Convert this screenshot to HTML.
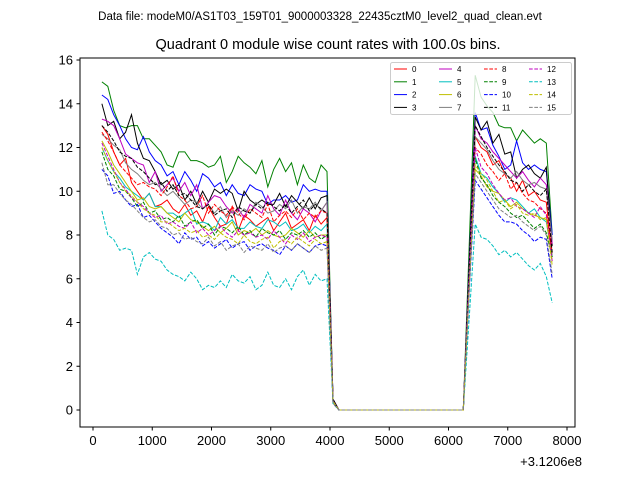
<!DOCTYPE html>
<html><head><meta charset="utf-8"><style>
body{margin:0;background:#fff}
svg text{font-family:"Liberation Sans","DejaVu Sans",sans-serif}
</style></head><body>
<svg id="c" width="640" height="480" xmlns="http://www.w3.org/2000/svg">
<rect width="640" height="480" fill="#fff"/>
<text x="320" y="20" font-size="11.5" text-anchor="middle">Data file: modeM0/AS1T03_159T01_9000003328_22435cztM0_level2_quad_clean.evt</text>
<text x="328" y="49" font-size="14.5" text-anchor="middle">Quadrant 0 module wise count rates with 100.0s bins.</text>
<g id="plot"></g>
<rect x="80" y="58" width="495" height="369" fill="none" stroke="#000" stroke-width="1"/>
<g id="axes"></g>
<text x="582" y="466" font-size="13" text-anchor="end">+3.1206e8</text>
<g id="legend"></g>
</svg>
<script>
const seg1X = [];for(let i=0;i<39;i++)seg1X.push(150+100*i);
const xTicks=[0,1000,2000,3000,4000,5000,6000,7000,8000];
const yTicks=[0,2,4,6,8,10,12,14,16];
const colors=["#ff0000","#008000","#0000ff","#000000","#bf00bf","#00bfbf","#bfbf00","#808080"];
const seg1 = [
[13.0,12.6,11.8,11.2,11.5,10.4,10.0,9.6,9.9,9.3,9.4,9.6,9.2,9.0,9.4,8.9,9.1,8.6,9.3,8.8,8.4,8.5,9.3,8.2,8.9,8.7,8.4,8.6,8.8,8.2,8.6,9.0,8.3,8.5,8.7,8.2,8.9,8.5,8.8],
[15.0,14.8,13.7,13.0,12.9,13.0,13.0,12.4,12.4,12.1,11.8,11.2,11.1,11.8,11.8,11.4,11.4,11.3,11.1,11.2,11.6,10.4,10.9,11.6,11.3,11.1,10.8,11.4,10.2,11.0,11.5,10.9,11.3,10.3,11.2,10.6,10.4,11.2,10.9],
[14.4,14.2,13.5,13.0,12.4,12.0,11.9,12.5,11.8,11.4,11.2,10.7,10.9,10.3,10.9,10.5,10.0,10.8,10.6,10.2,10.4,9.8,10.3,9.9,9.8,10.3,10.1,10.0,9.4,9.6,9.6,9.8,9.5,9.6,10.3,10.0,10.1,10.0,10.0],
[14.0,13.0,13.2,12.4,12.7,13.5,12.2,11.5,11.4,10.9,10.3,10.5,10.1,10.3,9.6,10.0,9.4,10.0,9.5,10.1,9.9,10.1,9.9,9.1,10.0,9.6,9.4,9.6,9.4,9.4,9.9,9.3,9.8,9.5,9.2,9.7,9.2,9.7,9.8],
[13.3,13.2,13.0,12.4,11.7,11.5,11.3,11.2,10.4,10.9,10.0,10.3,10.6,10.0,10.4,9.8,10.3,9.2,9.5,9.8,9.7,9.3,9.0,9.2,8.8,9.4,9.2,9.0,9.8,9.2,8.9,9.6,9.0,8.7,9.2,9.0,8.6,9.1,9.5],
[12.0,11.4,10.9,10.6,10.2,10.0,9.8,9.6,9.9,9.3,9.3,9.0,9.0,8.8,9.0,9.2,8.5,8.6,8.5,8.2,8.8,8.5,8.7,8.3,8.3,8.6,8.4,8.3,8.7,8.6,8.4,8.6,8.2,8.3,8.5,8.1,8.4,8.2,8.5],
[12.3,11.8,11.2,10.8,10.4,10.0,9.6,9.7,9.3,9.2,9.3,9.0,8.8,8.6,9.0,8.7,8.6,8.4,8.2,8.4,8.1,8.3,8.6,8.0,8.2,8.1,8.3,8.0,8.2,8.0,7.9,8.0,8.3,8.1,7.9,8.2,7.9,8.0,8.0],
[12.6,12.4,12.1,11.9,11.3,11.0,10.8,10.5,10.3,10.4,10.1,9.8,10.0,9.7,9.4,9.6,9.5,9.2,9.4,9.0,9.3,8.8,9.1,8.9,9.2,9.0,9.5,9.3,9.0,9.1,9.4,9.2,9.6,9.0,9.3,9.2,9.5,9.1,9.5],
[12.7,12.3,11.8,11.2,10.9,10.6,10.3,10.4,10.2,10.1,9.8,10.2,10.7,9.8,9.6,9.2,9.3,9.8,9.0,9.4,9.1,8.9,9.3,9.0,8.7,9.2,9.0,8.8,9.4,8.6,8.9,9.1,8.8,9.2,8.7,9.0,8.8,9.1,9.0],
[11.8,11.0,10.7,10.1,10.0,9.7,9.3,9.5,9.0,9.1,8.7,8.8,8.6,8.9,8.4,8.6,8.7,8.3,8.5,8.0,8.4,8.3,8.1,8.4,8.0,8.2,7.9,8.3,8.1,8.0,8.2,7.8,8.1,8.0,8.2,7.9,8.1,7.8,8.0],
[11.0,10.7,9.9,10.0,9.6,9.3,9.4,8.8,8.9,8.6,8.3,8.1,7.9,7.6,8.1,7.8,7.9,7.5,7.7,7.4,7.6,7.8,7.4,7.6,7.7,7.3,7.5,7.6,7.4,7.3,7.1,7.5,7.3,7.6,7.4,7.2,7.5,7.6,7.5],
[13.0,12.7,12.3,11.8,11.6,11.5,11.1,10.9,10.6,10.3,10.4,10.0,10.3,9.8,9.9,9.6,9.3,9.2,9.4,8.9,9.1,9.2,8.8,9.3,9.1,9.0,9.4,9.2,9.5,9.3,9.1,9.4,9.0,9.3,9.6,9.1,9.4,9.2,9.0],
[12.2,11.6,11.0,10.4,10.1,9.7,9.5,9.3,9.0,8.8,8.9,8.5,8.6,8.4,8.3,8.6,8.1,8.3,8.0,8.2,8.4,8.1,7.9,8.2,8.0,8.1,7.9,8.0,7.8,8.2,7.9,7.6,8.0,7.8,8.1,7.7,7.9,8.0,7.9],
[9.1,8.0,7.8,7.3,7.4,7.3,6.2,7.0,7.2,6.9,6.8,6.4,6.2,6.1,5.9,6.3,6.0,5.5,5.7,5.6,5.9,5.6,6.2,5.9,5.8,6.1,5.5,5.7,6.3,5.7,5.6,6.0,5.5,6.1,6.4,5.7,6.2,5.9,6.0],
[12.0,11.4,10.9,10.4,10.0,9.8,9.5,9.2,9.0,8.9,8.6,8.6,8.4,8.2,8.3,8.1,8.2,7.9,8.0,7.8,8.1,7.9,7.8,7.6,8.0,7.7,7.6,7.8,7.9,7.4,7.7,7.8,7.6,7.9,7.7,7.5,7.8,7.6,7.7],
[11.3,10.3,10.3,9.9,9.6,9.4,9.1,8.8,8.6,8.7,8.4,8.3,8.0,8.1,7.8,7.9,7.7,7.6,7.9,7.5,7.7,7.3,7.5,7.6,7.2,7.5,7.4,7.3,7.6,7.2,7.4,7.5,7.3,7.6,7.4,7.2,7.5,7.3,7.4]
];
const drop1 = [0.5,0.4,0.5,0.5,0.4,0.4,0.4,0.4,0.4,0.4,0.3,0.4,0.4,0.3,0.4,0.3];
const zeroX = [];for(let i=0;i<22;i++)zeroX.push(4150+100*i);
const rise2 = [6.2,7.5,6.7,6.6,6.5,6.0,5.8,6.2,6.0,5.7,5.4,6.5,6.0,4.2,5.6,5.6];
const seg2X = [];for(let i=0;i<14;i++)seg2X.push(6450+100*i);
const seg2 = [
[12.5,12.0,11.8,11.2,11.4,10.8,10.6,10.0,10.5,9.8,10.0,9.6,9.5,7.0],
[15.3,14.3,13.9,13.6,13.0,12.9,12.9,12.3,12.8,12.5,12.2,12.4,12.2,8.0],
[13.6,12.8,12.9,12.1,11.6,11.0,11.2,12.3,11.3,11.0,11.2,11.0,10.9,8.0],
[13.4,12.8,13.2,12.2,12.6,11.7,11.8,10.6,11.0,11.2,10.8,10.6,11.1,7.5],
[13.0,12.4,12.2,11.8,11.5,11.2,10.9,10.6,10.9,10.5,10.2,10.6,10.3,7.6],
[11.6,10.8,10.6,10.2,9.9,9.5,9.7,9.6,9.3,9.0,9.2,8.8,8.6,7.0],
[11.0,10.7,10.2,10.0,9.9,9.6,9.3,9.5,9.2,9.0,8.9,8.8,8.7,6.8],
[12.5,12.2,11.9,11.4,11.0,10.8,10.6,10.9,10.5,10.3,10.4,10.2,10.1,7.8],
[12.0,11.7,11.2,10.9,10.5,10.8,10.1,10.4,9.9,9.6,9.5,9.2,9.0,7.2],
[11.5,10.6,10.3,9.8,9.5,9.3,9.0,8.8,8.9,8.6,8.3,8.5,8.1,7.0],
[10.5,10.1,9.7,9.3,8.9,8.6,8.6,8.5,8.2,8.0,7.7,7.9,7.8,6.0],
[13.0,12.5,12.0,11.6,11.2,10.9,10.5,10.4,10.0,10.3,10.0,9.8,10.1,7.2],
[12.0,11.1,10.8,10.3,9.9,9.6,9.7,9.3,9.2,9.0,8.8,9.3,8.9,6.8],
[8.5,7.9,7.8,7.5,7.1,7.3,7.0,7.2,6.9,6.6,6.4,6.7,6.1,4.9],
[11.2,10.8,10.5,10.0,9.5,9.6,9.2,9.4,9.0,8.9,9.0,8.7,8.8,6.6],
[10.8,10.4,10.0,9.6,9.2,9.0,8.8,8.9,8.6,8.4,8.2,8.4,8.0,6.2]
];
const NS="http://www.w3.org/2000/svg";
const X=v=>93+(v)*474/8000, Y=v=>410-v*21.875;
const plot=document.getElementById('plot'), axes=document.getElementById('axes'), lg=document.getElementById('legend');
function mk(t,a,p){const e=document.createElementNS(NS,t);for(const k in a)e.setAttribute(k,a[k]);p.appendChild(e);return e;}
for(let s=0;s<16;s++){
  const pts=[];
  seg1X.forEach((x,i)=>pts.push([x,seg1[s][i]]));
  pts.push([4050,drop1[s]]);
  zeroX.forEach(x=>pts.push([x,0]));
  pts.push([6350,rise2[s]]);
  seg2X.forEach((x,i)=>pts.push([x,seg2[s][i]]));
  const p=mk('polyline',{points:pts.map(q=>X(q[0]).toFixed(1)+','+Y(q[1]).toFixed(1)).join(' '),fill:'none',stroke:colors[s%8],'stroke-width':1},plot);
  if(s>=8)p.setAttribute('stroke-dasharray','3.7,1.6');
  
  
}
xTicks.forEach(t=>{const x=X(t);
  mk('line',{x1:x,x2:x,y1:427,y2:430.5,stroke:'#000'},axes);
  const tx=mk('text',{x:x,y:445,'font-size':13,'text-anchor':'middle'},axes);tx.textContent=t;
  
  
});
yTicks.forEach(t=>{const y=Y(t);
  mk('line',{x1:76.5,x2:80,y1:y,y2:y,stroke:'#000'},axes);
  const tx=mk('text',{x:73,y:y+4.5,'font-size':13,'text-anchor':'end'},axes);tx.textContent=t;
  
  
});
const box=mk('rect',{x:390.5,y:62.5,width:181,height:52,rx:2,fill:'#fff','fill-opacity':0.8,stroke:'#ccc'},lg);


for(let s=0;s<16;s++){const c=Math.floor(s/4),r=s%4;const x0=394+c*45,y0=69+r*12.8;
  const l=mk('line',{x1:x0,x2:x0+13,y1:y0,y2:y0,stroke:colors[s%8],'stroke-width':1},lg);
  if(s>=8)l.setAttribute('stroke-dasharray','3.7,1.6');
  const t=mk('text',{x:x0+18,y:y0+3,'font-size':8},lg);t.textContent=s;
  
  
}
</script>
</body></html>
